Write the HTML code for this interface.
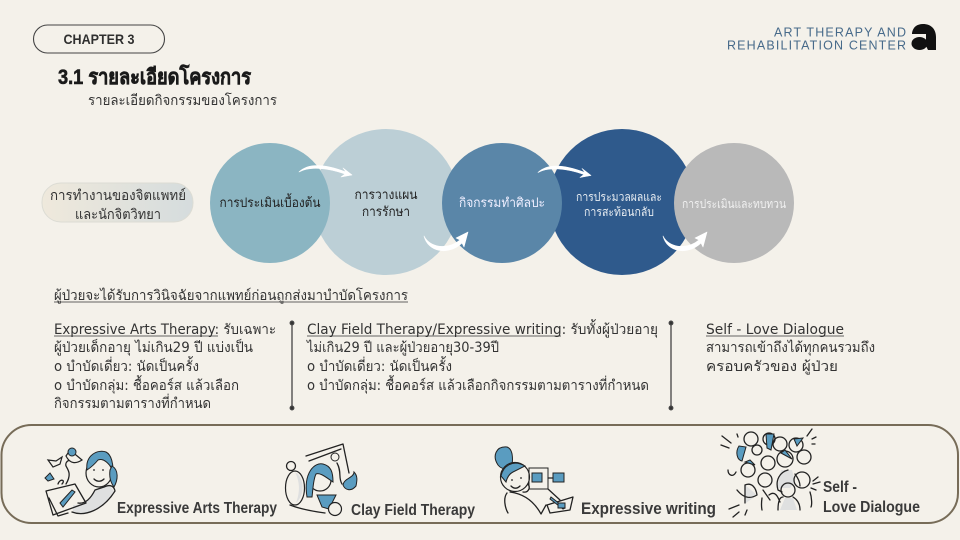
<!DOCTYPE html>
<html><head><meta charset="utf-8">
<style>
html,body{margin:0;padding:0;background:#f4f1ea}
svg{display:block}
text{font-family:"Liberation Sans","Noto Sans CJK SC",sans-serif;fill:#2f2f2f}
.t{font-family:"DejaVu Sans","Liberation Sans",sans-serif;font-size:14px;fill:#333}
.b{font-weight:bold;font-size:16px;fill:#3a3a3a;font-family:"Liberation Sans",sans-serif}
.l{fill:none;stroke:#222;stroke-width:1.3;stroke-linecap:round;stroke-linejoin:round}
.bl{fill:#5a9cc0;stroke:#222;stroke-width:1}
.g{fill:#dfe0e0;stroke:none}
.w{fill:#f4f1ea;stroke:#222;stroke-width:1.2}
.arr{fill:#fff;stroke:#fff;stroke-width:.6;stroke-linejoin:round}
</style></head>
<body>
<svg width="960" height="540" viewBox="0 0 960 540" xmlns="http://www.w3.org/2000/svg">
<defs>
<linearGradient id="pill" x1="0" x2="1"><stop offset="0" stop-color="#efe9dc"/><stop offset="1" stop-color="#d5dcdd"/></linearGradient>
</defs>
<rect width="960" height="540" fill="#f4f1ea"/>

<rect x="33.5" y="25" width="131" height="28" rx="14" fill="none" stroke="#444" stroke-width="1.1"/>
<text x="99" y="44" text-anchor="middle" font-size="14" font-weight="bold" fill="#333" textLength="71" lengthAdjust="spacingAndGlyphs">CHAPTER 3</text>
<text x="58" y="84" font-size="21" font-weight="bold" style="fill:#1a1a1a;stroke:#1a1a1a;stroke-width:.6" textLength="193" lengthAdjust="spacingAndGlyphs">3.1 รายละเอียดโครงการ</text>
<text x="88" y="105" class="t" textLength="189" lengthAdjust="spacingAndGlyphs">รายละเอียดกิจกรรมของโครงการ</text>

<text x="906" y="36.5" text-anchor="end" font-size="12.500" style="fill:#476a8a" textLength="132" lengthAdjust="spacing">ART THERAPY AND</text>
<text x="906" y="49.5" text-anchor="end" font-size="12.500" style="fill:#476a8a" textLength="179" lengthAdjust="spacing">REHABILITATION CENTER</text>
<path d="M912 33C913 27 917 24 923 24C931 24 936 29 936 37V50H928L926 46V34H912Z" fill="#111"/>
<ellipse cx="919.5" cy="43.5" rx="8" ry="6.500" fill="#111"/>

<rect x="42" y="183" width="151" height="39" rx="19" fill="url(#pill)" stroke="#dcdcd4"/>
<text x="118" y="200" text-anchor="middle" class="t" textLength="136" lengthAdjust="spacingAndGlyphs">การทำงานของจิตแพทย์</text>
<text x="118" y="219" text-anchor="middle" class="t" textLength="86" lengthAdjust="spacingAndGlyphs">และนักจิตวิทยา</text>

<circle cx="386" cy="202" r="73" fill="#bccfd6"/>
<circle cx="270" cy="203" r="60" fill="#8bb5c2"/>
<circle cx="622" cy="202" r="73" fill="#2f5a8c"/>
<circle cx="502" cy="203" r="60" fill="#5a86a8"/>
<circle cx="734" cy="203" r="60" fill="#b9b9b9"/>

<text x="270" y="207" text-anchor="middle" class="t" style="fill:#222;font-size:13px" textLength="101" lengthAdjust="spacingAndGlyphs">การประเมินเบื้องต้น</text>
<text x="386" y="199" text-anchor="middle" class="t" style="fill:#222;font-size:13px" textLength="63" lengthAdjust="spacingAndGlyphs">การวางแผน</text>
<text x="386" y="216" text-anchor="middle" class="t" style="fill:#222;font-size:13px" textLength="48" lengthAdjust="spacingAndGlyphs">การรักษา</text>
<text x="502" y="207" text-anchor="middle" class="t" style="fill:#eef;font-size:13px" textLength="86" lengthAdjust="spacingAndGlyphs">กิจกรรมทำศิลปะ</text>
<text x="619" y="201" text-anchor="middle" class="t" style="fill:#e8edf2;font-size:12px" textLength="86" lengthAdjust="spacingAndGlyphs">การประมวลผลและ</text>
<text x="619" y="216" text-anchor="middle" class="t" style="fill:#e8edf2;font-size:12px" textLength="70" lengthAdjust="spacingAndGlyphs">การสะท้อนกลับ</text>
<text x="734" y="208" text-anchor="middle" class="t" style="fill:#f1f1f1;font-size:12px" textLength="104" lengthAdjust="spacingAndGlyphs">การประเมินและทบทวน</text>

<path class="arr" d="M299 172C308 163 325 164 346 172L343 168L352 175L341 177L345 174C328 168 310 166 299 172Z"/>
<path class="arr" d="M424 236C430 248 448 250 460 240L456 238L468 232L464 247L462 243C448 256 428 252 424 236Z"/>
<path class="arr" transform="translate(239 .5)" d="M299 172C308 163 325 164 346 172L343 168L352 175L341 177L345 174C328 168 310 166 299 172Z"/>
<path class="arr" transform="translate(239 0)" d="M424 236C430 248 448 250 460 240L456 238L468 232L464 247L462 243C448 256 428 252 424 236Z"/>

<text x="54" y="300" class="t" textLength="354" lengthAdjust="spacingAndGlyphs">ผู้ป่วยจะได้รับการวินิจฉัยจากแพทย์ก่อนถูกส่งมาบำบัดโครงการ</text>
<line x1="54" x2="408" y1="302" y2="302" stroke="#333" stroke-width=".8"/>

<text x="54" y="334" class="t" textLength="222" lengthAdjust="spacingAndGlyphs">Expressive Arts Therapy: รับเฉพาะ</text>
<line x1="54" x2="218" y1="336" y2="336" stroke="#333" stroke-width=".8"/>
<text x="54" y="352" class="t" textLength="199" lengthAdjust="spacingAndGlyphs">ผู้ป่วยเด็กอายุ ไม่เกิน29 ปี แบ่งเป็น</text>
<text x="54" y="371" class="t" textLength="145" lengthAdjust="spacingAndGlyphs">o บำบัดเดี่ยว: นัดเป็นครั้ง</text>
<text x="54" y="390" class="t" textLength="185" lengthAdjust="spacingAndGlyphs">o บำบัดกลุ่ม: ชื้อคอร์ส แล้วเลือก</text>
<text x="54" y="408" class="t" textLength="157" lengthAdjust="spacingAndGlyphs">กิจกรรมตามตารางที่กำหนด</text>

<text x="307" y="334" class="t" textLength="351" lengthAdjust="spacingAndGlyphs">Clay Field Therapy/Expressive writing: รับทั้งผู้ป่วยอายุ</text>
<line x1="307" x2="561" y1="336" y2="336" stroke="#333" stroke-width=".8"/>
<text x="307" y="352" class="t" textLength="192" lengthAdjust="spacingAndGlyphs">ไม่เกิน29 ปี และผู้ป่วยอายุ30-39ปี</text>
<text x="307" y="371" class="t" textLength="145" lengthAdjust="spacingAndGlyphs">o บำบัดเดี่ยว: นัดเป็นครั้ง</text>
<text x="307" y="390" class="t" textLength="342" lengthAdjust="spacingAndGlyphs">o บำบัดกลุ่ม: ชื้อคอร์ส แล้วเลือกกิจกรรมตามตารางที่กำหนด</text>

<text x="706" y="334" class="t" textLength="138" lengthAdjust="spacingAndGlyphs">Self - Love Dialogue</text>
<line x1="706" x2="844" y1="336" y2="336" stroke="#333" stroke-width=".8"/>
<text x="706" y="352" class="t" textLength="169" lengthAdjust="spacingAndGlyphs">สามารถเข้าถึงได้ทุกคนรวมถึง</text>
<text x="706" y="371" class="t" textLength="132" lengthAdjust="spacingAndGlyphs">ครอบครัวของ ผู้ป่วย</text>

<g stroke="#444" stroke-width="1.300" fill="#333">
<line x1="292" y1="323" x2="292" y2="408"/><circle cx="292" cy="323" r="1.800"/><circle cx="292" cy="408" r="1.800"/>
<line x1="671" y1="323" x2="671" y2="408"/><circle cx="671" cy="323" r="1.800"/><circle cx="671" cy="408" r="1.800"/>
</g>

<rect x="1.5" y="425" width="956.500" height="98" rx="30" fill="none" stroke="#776c58" stroke-width="2"/>

<text x="117" y="513" class="b" textLength="160" lengthAdjust="spacingAndGlyphs">Expressive Arts Therapy</text>
<text x="351" y="515" class="b" textLength="124" lengthAdjust="spacingAndGlyphs">Clay Field Therapy</text>
<text x="581" y="514" class="b" style="font-size:17px" textLength="135" lengthAdjust="spacingAndGlyphs">Expressive writing</text>
<text x="823" y="492" class="b" textLength="34" lengthAdjust="spacingAndGlyphs">Self -</text>
<text x="823" y="512" class="b" textLength="97" lengthAdjust="spacingAndGlyphs">Love Dialogue</text>

<!-- art therapy figure -->
<g>
<path class="g" d="M73 512C85 516 104 510 114 491L108 484L96 489C90 500 82 505 73 505Z"/>
<path class="l" d="M72 512C85 517 103 510 115 491C114 486 110 484 104 487L95 490C90 500 84 504 78 503"/>
<ellipse cx="99" cy="473" rx="13" ry="14" class="w"/>
<path class="bl" d="M87 470C85 455 98 449 106 452C112 455 113 465 113 470C108 462 103 458 98 460C94 465 90 468 87 470Z"/>
<path class="bl" d="M112 466C119 470 118 480 114 487C111 483 109 477 110 470Z"/>
<path class="l" d="M94 479C97 482 101 482 104 479"/>
<circle cx="94" cy="470" r=".9" fill="#222"/><circle cx="103" cy="470" r=".9" fill="#222"/>
<path class="l" d="M46 491L75 484L86 503L53 515ZM49 498L58 516L68 513"/>
<path class="bl" d="M60 503L72 490L75 492L63 507Z"/>
<path class="l" d="M66 484C72 474 68 470 66 466C65 463 68 458 73 462M58 484C60 478 66 480 62 484"/>
<path class="w" d="M66 456L70 450L82 460C76 464 70 464 66 456Z"/>
<circle cx="72" cy="452" r="4" class="bl"/>
<path class="w" d="M48 460L56 461L62 457L60 464L53 467Z"/>
<path class="bl" d="M45 478L50 473L54 479L48 481Z"/>
</g>

<!-- clay figure -->
<g>
<path class="l" d="M306 456L343 444L349 473M309 461L341 449"/>
<ellipse cx="295" cy="488" rx="9.500" ry="17" class="w"/>
<path class="g" d="M295 472C305 478 305 495 296 503C301 490 299 480 295 472Z"/>
<circle cx="291" cy="466" r="4.500" fill="none" stroke="#222" stroke-width="1.300"/>
<path class="l" d="M290 505C300 509 310 511 325 513"/>
<circle cx="320" cy="480" r="11" class="w"/>
<path class="bl" d="M307 497C303 472 315 462 323 464C331 466 333 472 333 482C327 478 320 472 316 474C313 480 313 490 312 497Z"/>
<path class="bl" d="M317 495L336 495L329 509L322 507Z"/>
<path class="bl" d="M343 485C344 478 354 478 354 472C358 476 357 481 356 486C351 492 345 490 343 485Z"/>
<circle cx="335" cy="509" r="6.500" class="w"/>
<circle cx="335" cy="457" r="4" fill="none" stroke="#222"/>
<path class="l" d="M337 463C342 472 338 478 342 484"/>
</g>

<!-- writing figure -->
<g>
<path class="bl" d="M498 465C492 456 496 446 507 447C513 449 513 458 512 466C509 470 502 470 498 465Z"/>
<circle cx="515" cy="477" r="14.500" class="w"/>
<path class="bl" d="M501 476C503 466 513 459 525 466L513 472C509 474 507 478 506 482Z"/>
<circle cx="512" cy="480" r=".9" fill="#222"/><circle cx="521" cy="478" r=".9" fill="#222"/>
<path class="l" d="M511 486C514 489 517 489 520 486M528 484C531 488 528 493 523 492"/>
<path class="l" d="M507 493C503 498 505 508 508 513M510 492C525 494 535 503 541 514L546 505"/>
<rect x="529" y="468" width="19" height="21" fill="none" stroke="#222" stroke-width="1"/>
<rect x="532" y="473" width="10" height="9" class="bl"/>
<rect x="553" y="473" width="11" height="9" class="bl"/>
<path class="l" d="M548 478H553M548 489L560 500"/>
<path class="l" d="M547 505L573 497L570 510L550 513Z"/>
<path class="bl" d="M551 497L565 508L563 509L550 499Z"/>
<rect x="558" y="503" width="7" height="5" class="bl"/>
</g>

<!-- crowd -->
<g>
<path class="g" d="M745 485L757 495L746 503ZM777 488L781 470L792 470L795 482L790 488ZM780 510L785 498L793 498L797 510Z"/>
<path class="l" d="M722 436L731 443M721 445L729 448M737 434L738 437M812 429L807 436M812 439L816 437M812 444L815 444M739 505L729 509M739 512L733 517M747 510L745 515M813 481L818 477M813 484L820 482M811 488L816 490"/>
<g class="l">
<circle cx="751" cy="439" r="7"/><circle cx="769" cy="439" r="6"/><circle cx="780" cy="444" r="7"/><circle cx="796" cy="445" r="7"/><circle cx="804" cy="457" r="7"/><circle cx="785" cy="459" r="8"/><circle cx="768" cy="463" r="7"/><circle cx="757" cy="450" r="5"/><circle cx="748" cy="470" r="7"/><circle cx="765" cy="480" r="7"/><circle cx="802" cy="480" r="8"/><circle cx="788" cy="490" r="7"/>
<path d="M788 470C780 472 775 480 778 490L782 492M795 474C798 478 800 482 800 486M745 485V503M745 485C752 482 756 488 757 495C752 498 745 500 737 490M763 490L770 500M769 495C775 490 778 497 780 502M762 498C761 505 762 510 762 510M793 497C798 500 800 505 800 510M778 510C778 500 780 497 783 497M810 492C812 498 812 505 811 507M728 470C728 475 733 478 736 472"/>
</g>
<path class="bl" d="M739 446C735 452 737 460 742 461L746 447Z"/>
<path class="bl" d="M766 434L774 434L771 450L767 448Z"/>
<path class="bl" d="M794 439L803 438L797 446Z"/>
<path class="bl" d="M781 453L792 459L785 450Z"/>
<path class="bl" d="M745 462L755 465L750 460Z"/>
</g>
</svg>
</body></html>
